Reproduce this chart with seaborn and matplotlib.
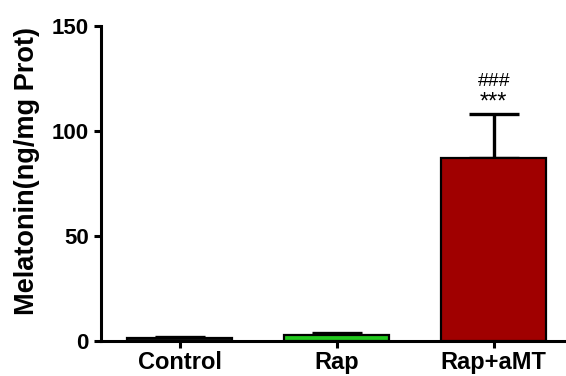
import matplotlib
matplotlib.use("Agg")
import matplotlib.pyplot as plt
import seaborn as sns
import pandas as pd

groups = ["Control", "Rap", "Rap+aMT"]
means = [1.5, 3.0, 87.0]
sds = [0.6, 1.0, 21.0]
bar_colors = ["#111111", "#22c81e", "#a00000"]
marks_star = ["", "", "***"]
marks_hash = ["", "", "###"]

sns.set_theme(style="ticks")
plt.rcParams["font.family"] = ["Liberation Sans", "DejaVu Sans"]
plt.rcParams["font.weight"] = "bold"
plt.rcParams["text.color"] = "black"
plt.rcParams["axes.labelcolor"] = "black"
plt.rcParams["xtick.color"] = "black"
plt.rcParams["ytick.color"] = "black"

df = pd.DataFrame({"group": groups, "mean": means})

fig = plt.figure(figsize=(5.66, 3.76), dpi=100)
ax = fig.add_axes([0.178, 0.093, 0.822, 0.838])

sns.barplot(data=df, x="group", y="mean", hue="group", palette=bar_colors,
            order=groups, width=0.67, edgecolor="black", linewidth=1.6,
            saturation=1, legend=False, errorbar=None, ax=ax, zorder=3)

xs = list(range(len(groups)))
ax.errorbar(xs, means, yerr=[[0] * len(sds), sds], fmt="none",
            ecolor="black", elinewidth=2.4, capsize=18, capthick=2.4, zorder=2)

for x, m, s, st, hs in zip(xs, means, sds, marks_star, marks_hash):
    if st:
        ax.text(x, m + s + 0.3, st, ha="center", va="bottom", fontsize=17,
                fontweight="normal")
    if hs:
        ax.text(x, m + s + 11.5, hs, ha="center", va="bottom", fontsize=14,
                fontweight="normal")

ax.set_ylim(0, 150)
ax.set_xlim(-0.503, 2.46)
ax.set_yticks([0, 50, 100, 150])
ax.set_xlabel("")
ax.set_ylabel("Melatonin(ng/mg Prot)", fontsize=19.5, fontweight="bold")
ax.yaxis.set_label_coords(-0.13, 0.54)
ax.tick_params(axis="y", labelsize=16, width=2.2, length=5, direction="out")
ax.tick_params(axis="x", labelsize=17, width=2.2, length=5, direction="out",
               pad=2)
for lab in ax.get_xticklabels() + ax.get_yticklabels():
    lab.set_fontweight("bold")
sns.despine(ax=ax)
for side in ["left", "bottom"]:
    ax.spines[side].set_linewidth(2.2)
    ax.spines[side].set_color("black")

fig.savefig("out.png", dpi=100)
